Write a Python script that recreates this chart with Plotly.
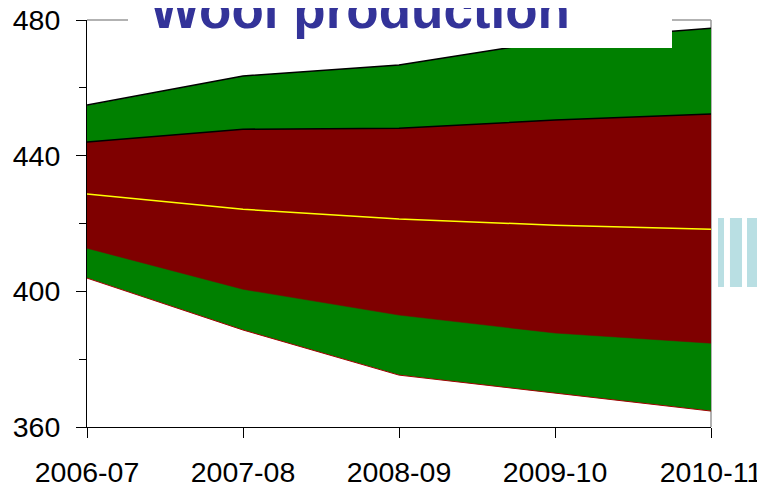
import plotly.graph_objects as go

years = ['2006-07', '2007-08', '2008-09', '2009-10', '2010-11']
outer_upper = [454.9, 463.5, 466.7, 474.0, 477.6]
inner_upper = [444.0, 447.8, 448.1, 450.5, 452.3]
central = [428.7, 424.2, 421.3, 419.5, 418.3]
inner_lower = [412.7, 400.6, 393.0, 387.7, 384.7]
outer_lower = [403.9, 388.6, 375.3, 370.0, 364.7]

green = '#008000'
maroon = '#7f0000'
font = 'Liberation Sans, Arial, sans-serif'

fig = go.Figure()
fig.add_trace(go.Scatter(x=years, y=outer_lower, mode='lines',
                         line=dict(color='#a00000', width=1), showlegend=False))
fig.add_trace(go.Scatter(x=years, y=outer_upper, mode='lines', fill='tonexty',
                         fillcolor=green, line=dict(color='black', width=1.5),
                         showlegend=False))
fig.add_trace(go.Scatter(x=years, y=inner_lower, mode='lines',
                         line=dict(color=maroon, width=0.5), showlegend=False))
fig.add_trace(go.Scatter(x=years, y=inner_upper, mode='lines', fill='tonexty',
                         fillcolor=maroon, line=dict(color='black', width=1.5),
                         showlegend=False))
fig.add_trace(go.Scatter(x=years, y=central, mode='lines',
                         line=dict(color='#ffff00', width=1.5), showlegend=False))

tickfont = dict(family=font, size=28.5, color='black')
# page body has an 8px margin, so the figure is 8px smaller on each axis
fig.update_layout(
    width=757, height=477,
    margin=dict(l=79, r=54, t=12, b=58, autoexpand=False),
    paper_bgcolor='white', plot_bgcolor='white',
    xaxis=dict(type='category', range=[0, 4], showgrid=False, showline=True,
               linecolor='black', linewidth=1, ticks='outside', ticklen=10,
               tickcolor='black', tickfont=tickfont, zeroline=False,
               automargin=False, ticklabelstandoff=10, ticklabeloverflow='allow'),
    yaxis=dict(range=[360, 480], dtick=40, showgrid=False, showline=True,
               linecolor='black', linewidth=1, ticks='outside', ticklen=10,
               tickcolor='black', tickfont=tickfont, zeroline=False,
               automargin=False, ticklabelstandoff=10, ticklabeloverflow='allow',
               minor=dict(dtick=20, ticks='outside', ticklen=7, tickcolor='black')),
    xaxis2=dict(overlaying='x', range=[0, 4], dtick=1, showgrid=False,
                showline=False, ticks='inside', ticklen=10, tickcolor='black',
                showticklabels=False, zeroline=False, side='bottom'),
    yaxis2=dict(overlaying='y', range=[360, 480], dtick=40, showgrid=False,
                showline=False, ticks='inside', ticklen=10, tickcolor='black',
                showticklabels=False, zeroline=False, side='left',
                minor=dict(dtick=20, ticks='inside', ticklen=7, tickcolor='black')),
)

# frame lines on top and right
fig.add_shape(type='line', xref='paper', yref='paper', x0=0, x1=1, y0=1, y1=1,
              line=dict(color='#999999', width=1.5), layer='below')
fig.add_shape(type='line', xref='paper', yref='paper', x0=1, x1=1, y0=0, y1=1,
              line=dict(color='#999999', width=1.5), layer='below')
# white box behind the title
fig.add_shape(type='rect', xref='paper', yref='paper', x0=0.0657, x1=0.9375,
              y0=0.9312, y1=1.2, fillcolor='white', line=dict(width=0))
# light blue strips at right edge
for x0, x1 in [(1.0112, 1.0208), (1.0304, 1.0497), (1.0577, 1.1)]:
    fig.add_shape(type='rect', xref='paper', yref='paper', x0=x0, x1=x1,
                  y0=0.344, y1=0.5135, fillcolor='#b9dfe3', line=dict(width=0))

fig.add_annotation(text='<b>Wool production</b>', xref='paper', yref='paper',
                   x=0.4375, y=1.027, xanchor='center', yanchor='middle',
                   showarrow=False, font=dict(family=font, size=53, color='#333399'))

fig.write_html('out.html')
